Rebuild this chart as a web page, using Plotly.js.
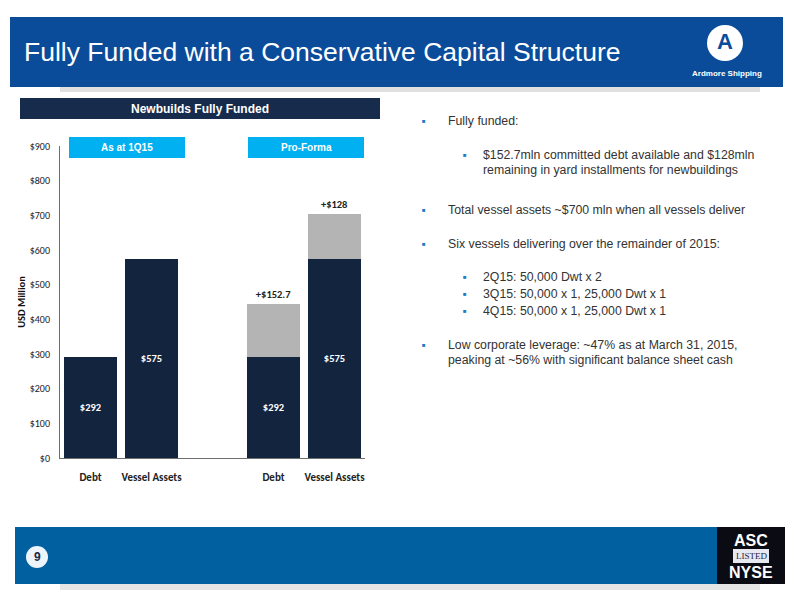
<!DOCTYPE html>
<html>
<head>
<meta charset="utf-8">
<script src="https://cdn.plot.ly/plotly-3.0.1.min.js"></script>
<style>
html,body{margin:0;padding:0;background:#fff;}
#chart{width:800px;height:600px;}
</style>
</head>
<body>
<div id="chart"></div>
<script>
// ---- data ----
const categories = ["Debt", "Vessel Assets", "Debt", "Vessel Assets"];
const groups = ["As at 1Q15", "Pro-Forma"];
const baseValues = [292, 575, 292, 575];
const addValues = [0, 0, 152.7, 128];
const baseLabels = ["$292", "$575", "$292", "$575"];
const addLabels = ["", "", "+$152.7", "+$128"];
const yTickVals = [0, 100, 200, 300, 400, 500, 600, 700, 800, 900];
const yTickText = ["$0", "$100", "$200", "$300", "$400", "$500", "$600", "$700", "$800", "$900"];
const xPositions = [0, 1, 3, 4];
const bullets = [
  {lvl: 1, lines: ["Fully funded:"]},
  {lvl: 2, lines: ["$152.7mln committed debt available and $128mln", "remaining in yard installments for newbuildings"]},
  {lvl: 1, lines: ["Total vessel assets ~$700 mln when all vessels deliver"]},
  {lvl: 1, lines: ["Six vessels delivering over the remainder of 2015:"]},
  {lvl: 2, lines: ["2Q15: 50,000 Dwt x 2"]},
  {lvl: 2, lines: ["3Q15: 50,000 x 1, 25,000 Dwt x 1"]},
  {lvl: 2, lines: ["4Q15: 50,000 x 1, 25,000 Dwt x 1"]},
  {lvl: 1, lines: ["Low corporate leverage: ~47% as at March 31, 2015,", "peaking at ~56% with significant balance sheet cash"]}
];
const bulletY = [121, 155, 210, 244, 277, 294, 311, 345];

// ---- helpers (pixel -> paper) ----
const W = 800, H = 600;
const px = x => x / W;
const py = y => 1 - y / H;

const navy = "#13243f";
const grey = "#b4b4b4";
const chartFont = "Liberation Sans, Arial, sans-serif";
const calFont = "Carlito, Liberation Sans, Arial";

const traces = [
  {
    type: "bar", x: xPositions, y: baseValues, width: 0.87,
    marker: {color: navy, line: {width: 0}},
    text: baseLabels.map(t => "<b>" + t + "</b>"), textposition: "inside", insidetextanchor: "middle",
    textfont: {color: "#ffffff", size: 10.5, family: calFont},
    hoverinfo: "none", showlegend: false
  },
  {
    type: "bar", x: xPositions, y: addValues, width: 0.87,
    marker: {color: grey, line: {width: 0}},
    text: addLabels.map(t => t ? "<b>" + t + "</b>" : ""), textposition: "outside", cliponaxis: false,
    textfont: {color: "#222222", size: 10.5, family: calFont},
    hoverinfo: "none", showlegend: false
  }
];

const shapes = [
  {type: "rect", xref: "paper", yref: "paper", x0: px(10), x1: px(783), y0: py(87), y1: py(17), fillcolor: "#0a4c9a", line: {width: 0}, layer: "below"},
  {type: "rect", xref: "paper", yref: "paper", x0: px(60), x1: px(760), y0: py(92), y1: py(87), fillcolor: "rgba(0,0,0,0.12)", line: {width: 0}, layer: "below"},
  {type: "circle", xref: "paper", yref: "paper", x0: px(707), x1: px(743), y0: py(61), y1: py(25), fillcolor: "#ffffff", line: {width: 0}},
  {type: "rect", xref: "paper", yref: "paper", x0: px(20), x1: px(380), y0: py(119), y1: py(98), fillcolor: "#172b4d", line: {width: 0}, layer: "below"},
  {type: "rect", xref: "paper", yref: "paper", x0: px(69), x1: px(185), y0: py(158), y1: py(137), fillcolor: "#00b0f0", line: {width: 0}},
  {type: "rect", xref: "paper", yref: "paper", x0: px(248), x1: px(364), y0: py(158), y1: py(137), fillcolor: "#00b0f0", line: {width: 0}},
  {type: "rect", xref: "paper", yref: "paper", x0: px(15), x1: px(717), y0: py(584), y1: py(527), fillcolor: "#0060a0", line: {width: 0}, layer: "below"},
  {type: "rect", xref: "paper", yref: "paper", x0: px(60), x1: px(760), y0: py(590), y1: py(584), fillcolor: "rgba(0,0,0,0.10)", line: {width: 0}, layer: "below"},
  {type: "rect", xref: "paper", yref: "paper", x0: px(717), x1: px(785), y0: py(584), y1: py(527), fillcolor: "#0b0b14", line: {width: 0}, layer: "below"},
  {type: "rect", xref: "paper", yref: "paper", x0: px(733), x1: px(769), y0: py(563), y1: py(549), fillcolor: "#e8e8f0", line: {width: 0}},
  {type: "circle", xref: "paper", yref: "paper", x0: px(26), x1: px(48), y0: py(568), y1: py(546), fillcolor: "#eef4fb", line: {width: 0}}
];

const annotations = [
  {text: "Fully Funded with a Conservative Capital Structure", xref: "paper", yref: "paper", x: px(22), y: py(52), xanchor: "left", yanchor: "middle", showarrow: false, font: {family: chartFont, size: 26.5, color: "#ffffff"}},
  {text: "<b>A</b>", xref: "paper", yref: "paper", x: px(725), y: py(41), xanchor: "center", yanchor: "middle", showarrow: false, font: {family: chartFont, size: 22, color: "#0a4c9a"}},
  {text: "<b>Ardmore Shipping</b>", xref: "paper", yref: "paper", x: px(727), y: py(74), xanchor: "center", yanchor: "middle", showarrow: false, font: {family: chartFont, size: 8, color: "#ffffff"}},
  {text: "<b>Newbuilds Fully Funded</b>", xref: "paper", yref: "paper", x: px(200), y: py(108.5), xanchor: "center", yanchor: "middle", showarrow: false, font: {family: chartFont, size: 12, color: "#ffffff"}},
  {text: "<b>" + groups[0] + "</b>", xref: "paper", yref: "paper", x: px(127), y: py(147.5), xanchor: "center", yanchor: "middle", showarrow: false, font: {family: chartFont, size: 10, color: "#ffffff"}},
  {text: "<b>" + groups[1] + "</b>", xref: "paper", yref: "paper", x: px(306), y: py(147.5), xanchor: "center", yanchor: "middle", showarrow: false, font: {family: chartFont, size: 10, color: "#ffffff"}},
  {text: "<b>9</b>", xref: "paper", yref: "paper", x: px(37), y: py(557), xanchor: "center", yanchor: "middle", showarrow: false, font: {family: chartFont, size: 12, color: "#1a2a4a"}},
  {text: "<b>ASC</b>", xref: "paper", yref: "paper", x: px(751), y: py(540), xanchor: "center", yanchor: "middle", showarrow: false, font: {family: "Liberation Sans Narrow, Liberation Sans, Arial", size: 16, color: "#ffffff"}},
  {text: "LISTED", xref: "paper", yref: "paper", x: px(751), y: py(556), xanchor: "center", yanchor: "middle", showarrow: false, font: {family: "Liberation Serif, serif", size: 9, color: "#1a1a40"}},
  {text: "<b>NYSE</b>", xref: "paper", yref: "paper", x: px(751), y: py(572), xanchor: "center", yanchor: "middle", showarrow: false, font: {family: "Liberation Sans Narrow, Liberation Sans, Arial", size: 16, color: "#ffffff"}}
];

bullets.forEach((b, i) => {
  const bx = b.lvl === 1 ? 424 : 465;
  const tx = b.lvl === 1 ? 446 : 481;
  annotations.push({text: "■", xref: "paper", yref: "paper", x: px(bx), y: py(bulletY[i]), xanchor: "center", yanchor: "middle", showarrow: false, font: {family: chartFont, size: 6, color: "#1f7bc8"}});
  b.lines.forEach((ln, j) => {
    annotations.push({text: ln, xref: "paper", yref: "paper", x: px(tx), y: py(bulletY[i] + j * 15), xanchor: "left", yanchor: "middle", showarrow: false, font: {family: chartFont, size: 12.3, color: "#333333"}});
  });
});

const layout = {
  width: W, height: H,
  margin: {l: 0, r: 0, t: 0, b: 0},
  paper_bgcolor: "#ffffff", plot_bgcolor: "rgba(0,0,0,0)",
  barmode: "stack", bargap: 0,
  showlegend: false,
  xaxis: {
    domain: [px(60), px(365)], range: [-0.5, 4.5],
    tickmode: "array", tickvals: xPositions, ticktext: categories.map(c => "<b>" + c + "</b>"),
    showline: true, linecolor: "#6f6f6f", linewidth: 1, showgrid: false, zeroline: false,
    ticks: "", ticklen: 0, ticklabelstandoff: 9,
    tickfont: {family: calFont, size: 11, color: "#222222"},
    fixedrange: true
  },
  yaxis: {
    domain: [py(458), py(146)], range: [0, 900],
    tickmode: "array", tickvals: yTickVals, ticktext: yTickText,
    showline: true, linecolor: "#6f6f6f", linewidth: 1, showgrid: false, zeroline: false,
    ticks: "", ticklen: 0, ticklabelstandoff: 7,
    tickfont: {family: calFont, size: 10, color: "#222222"},
    title: {text: "<b>USD Million</b>", standoff: 2, font: {family: calFont, size: 10.5, color: "#111111"}},
    fixedrange: true
  },
  shapes: shapes,
  annotations: annotations
};

Plotly.newPlot("chart", traces, layout, {displayModeBar: false, staticPlot: true});
</script>
</body>
</html>
